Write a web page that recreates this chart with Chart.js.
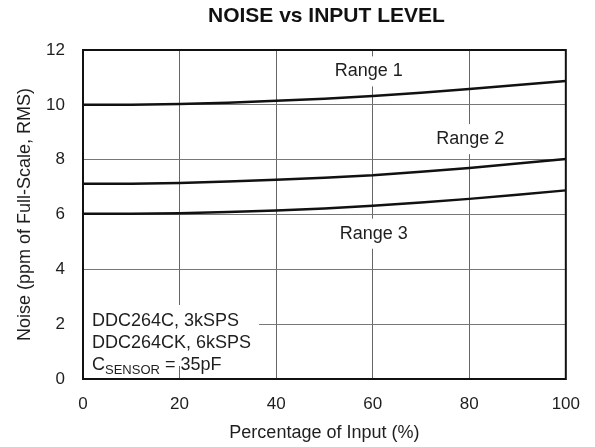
<!DOCTYPE html>
<html><head><meta charset="utf-8">
<script src="https://cdn.jsdelivr.net/npm/chart.js@4.4.1/dist/chart.umd.min.js"></script>
<style>html,body{margin:0;padding:0;background:#fff;}#wrap{width:595px;height:447px;}</style>
</head><body><div id="wrap"><canvas id="c" width="595" height="447"></canvas></div>
<script>
// ---- data ----
const inputPct = [0, 10, 20, 30, 40, 50, 60, 70, 80, 90, 100];
const range1 = [10.00, 10.00, 10.03, 10.08, 10.15, 10.22, 10.32, 10.44, 10.58, 10.72, 10.87];
const range2 = [7.12, 7.12, 7.15, 7.20, 7.27, 7.34, 7.43, 7.56, 7.70, 7.86, 8.02];
const range3 = [6.03, 6.03, 6.05, 6.09, 6.15, 6.22, 6.32, 6.44, 6.57, 6.72, 6.88];
const seriesNames = ['Range 1', 'Range 2', 'Range 3'];
const xTicks = [0, 20, 40, 60, 80, 100];
const yTicks = [0, 2, 4, 6, 8, 10, 12];
const titleText = 'NOISE vs INPUT LEVEL';
const xTitle = 'Percentage of Input (%)';
const yTitle = 'Noise (ppm of Full-Scale, RMS)';
const noteLines = ['DDC264C, 3kSPS', 'DDC264CK, 6kSPS'];
const noteCap = ['C', 'SENSOR', ' = 35pF'];
// label anchors in data units (x %, y ppm)
const labelAnchorX = [59.2, 80.2, 60.2];
const labelAnchorY = [11.22, 8.75, 5.3];

const FONT = '"Liberation Sans", Arial, Helvetica, sans-serif';
const TXT = '#1e1e1e';

const toPts = arr => inputPct.map((x, i) => ({x, y: arr[i]}));
const series = [range1, range2, range3];

const titlePlugin = {
  id: 'ttl',
  afterDraw(chart) {
    const {ctx, chartArea: a} = chart;
    ctx.save();
    ctx.font = 'bold 21px ' + FONT;
    ctx.fillStyle = '#111';
    ctx.textAlign = 'center';
    ctx.textBaseline = 'middle';
    ctx.fillText(titleText, (a.left + a.right) / 2 + 2, 16);
    ctx.restore();
  }
};

const annot = {
  id: 'annot',
  afterDatasetsDraw(chart) {
    const {ctx, chartArea: a, scales: {x, y}} = chart;
    ctx.save();
    ctx.font = '18px ' + FONT;
    ctx.textAlign = 'center';
    ctx.textBaseline = 'middle';
    seriesNames.forEach((n, i) => {
      const px = x.getPixelForValue(labelAnchorX[i]);
      const py = y.getPixelForValue(labelAnchorY[i]);
      const w = ctx.measureText(n).width + 8;
      ctx.fillStyle = '#fff';
      ctx.fillRect(px - w / 2, py - 15, w, 30);
      ctx.fillStyle = TXT;
      ctx.fillText(n, px, py);
    });
    // note block
    ctx.textAlign = 'left';
    ctx.textBaseline = 'alphabetic';
    const x0 = a.left + 9;
    const b1 = a.bottom - 53, b2 = a.bottom - 31, b3 = a.bottom - 9;
    const maxW = Math.max(...noteLines.map(t => ctx.measureText(t).width));
    const boxR = x0 + maxW + 8;
    const gx = x.getPixelForValue(xTicks[1]);
    ctx.fillStyle = '#fff';
    ctx.fillRect(a.left + 1, b1 - 21, boxR - a.left - 1, (b3 - 4) - (b1 - 21));
    ctx.fillRect(a.left + 1, b3 - 4, gx - 2 - a.left - 1, a.bottom - (b3 - 4) - 1);
    ctx.fillRect(gx + 2, b3 - 4, boxR - gx - 2, a.bottom - (b3 - 4) - 1);
    ctx.fillStyle = TXT;
    ctx.fillText(noteLines[0], x0, b1);
    ctx.fillText(noteLines[1], x0, b2);
    let cx = x0;
    ctx.font = '18px ' + FONT;
    ctx.fillText(noteCap[0], cx, b3);
    cx += ctx.measureText(noteCap[0]).width;
    ctx.font = '13px ' + FONT;
    ctx.fillText(noteCap[1], cx, b3 + 4);
    cx += ctx.measureText(noteCap[1]).width;
    ctx.font = '18px ' + FONT;
    ctx.fillText(noteCap[2], cx, b3);
    ctx.restore();
  },
  afterDraw(chart) {
    const {ctx, chartArea: a} = chart;
    ctx.save();
    ctx.strokeStyle = '#111';
    ctx.lineWidth = 2;
    ctx.strokeRect(a.left, a.top, a.right - a.left, a.bottom - a.top);
    ctx.restore();
  }
};

new Chart(document.getElementById('c'), {
  type: 'line',
  data: {
    datasets: series.map((s, i) => ({
      label: seriesNames[i],
      data: toPts(s),
      borderColor: '#111',
      borderWidth: 2.5,
      pointRadius: 0,
      tension: 0,
      fill: false
    }))
  },
  options: {
    responsive: false,
    animation: false,
    devicePixelRatio: 1,
    layout: {padding: {top: 50, right: 27, left: 0, bottom: 0}},
    plugins: {legend: {display: false}, title: {display: false}, tooltip: {enabled: false}},
    scales: {
      x: {
        type: 'linear', min: 0, max: 100,
        afterBuildTicks: s => { s.ticks = xTicks.map(v => ({value: v})); },
        afterFit: s => { s.height = 68; },
        ticks: {padding: 15, color: TXT, font: {family: FONT, size: 17}},
        grid: {drawTicks: false, color: '#666', lineWidth: 1},
        border: {display: false},
        title: {display: true, text: xTitle, color: TXT, font: {family: FONT, size: 18}, padding: {top: 0, bottom: 3}}
      },
      y: {
        type: 'linear', min: 0, max: 12,
        afterBuildTicks: s => { s.ticks = yTicks.map(v => ({value: v})); },
        afterFit: s => { s.width = 83; },
        ticks: {padding: 18, color: TXT, font: {family: FONT, size: 17}},
        grid: {drawTicks: false, color: '#777', lineWidth: 1},
        border: {display: false},
        title: {display: true, text: yTitle, color: TXT, font: {family: FONT, size: 18}, padding: {top: 14, bottom: 0}}
      }
    }
  },
  plugins: [annot, titlePlugin]
});
</script></body></html>
